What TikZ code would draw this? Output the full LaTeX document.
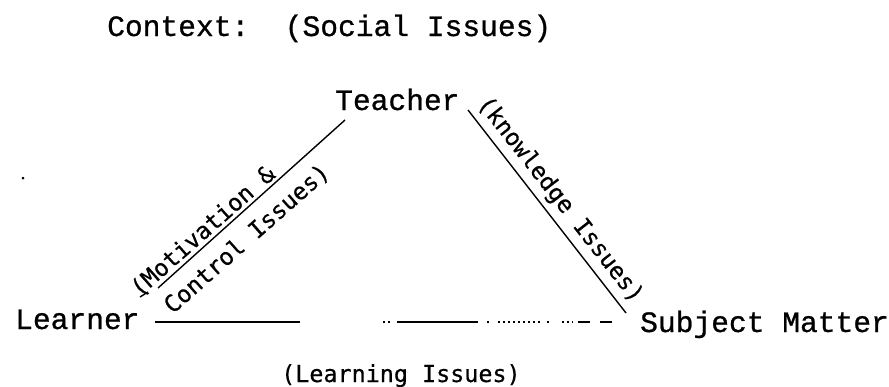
\documentclass[tikz,border=0pt]{standalone}
\usepackage{fontspec}
\newfontfamily\typefont[FakeBold=0.8]{Liberation Mono}
\newfontfamily\gothfont[FakeBold=0.5]{DejaVu Sans Mono}
\begin{document}
\begin{tikzpicture}[x=1pt,y=-1pt,
  mainlbl/.style={font=\typefont\fontsize{29.6}{30}\selectfont, inner sep=0pt, anchor=base west},
  smalllbl/.style={font=\gothfont\fontsize{23.4}{24}\selectfont, inner sep=0pt},
  edgeline/.style={line width=1.4pt, black},
  faint/.style={line width=1.1pt, black}]
\useasboundingbox (0,0) rectangle (889,386);

% main labels
\node[mainlbl] (ctx) at (107,36) {Context:\ \ (Social Issues)};
\node[mainlbl] (teacher) at (335,110) {Teacher};
\node[mainlbl] (learner) at (15,329) {Learner};
\node[mainlbl] (subject) at (640,332) {Subject Matter};
\node[smalllbl, anchor=base west] (learning) at (281,382) {(Learning Issues)};

% end points of the connectors
\coordinate (tl) at (345,120);
\coordinate (lt) at (158,288);
\coordinate (tr) at (468,110);
\coordinate (sr) at (626,313);
\coordinate (lb) at (155,322);

% left side: Teacher -- Learner
\draw[edgeline] (tl) -- (lt);
\draw[edgeline] (140,297) -- (148,292);
\node[smalllbl, rotate=41.5, anchor=base] (motiv) at (208,237) {(Motivation \&};
\node[smalllbl, rotate=41.5] (control) at (247,239) {Control Issues)};

% right side: Teacher -- Subject Matter
\draw[edgeline] (tr) -- (sr);
\node[smalllbl, rotate=-52] (know) at (560,200) {(knowledge Issues)};

% bottom: Learner -- Subject Matter (broken line)
\draw[line width=2.6pt] (lb) -- (300,322);
\draw[faint] (383,322) -- (385,322);
\draw[faint] (388,322) -- (390,322);
\draw[faint] (397,322) -- (478,322);
\draw[faint] (487,322) -- (489,322);
\draw[faint, dash pattern=on 2pt off 3pt] (498,322) -- (540,322);
\draw[faint] (547,322) -- (549,322);
\draw[faint, dash pattern=on 2pt off 3pt] (562,322) -- (573,322);
\draw[faint] (578,322) -- (590,322);
\draw[faint] (600,322) -- (612,322);

% stray dot
\fill (23,178) circle (1.5);
\end{tikzpicture}
\end{document}
